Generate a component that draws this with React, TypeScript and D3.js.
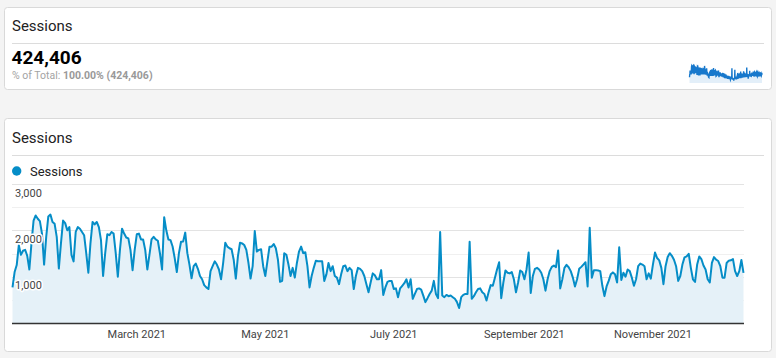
import React from 'react';
import * as d3 from 'd3';

// Daily sessions (Jan 1 2021 – Dec 14 2021)
const jan = [770, 1100, 1250, 1680, 1470, 1560, 1580, 1450, 1155, 1720, 2210, 2320, 2250, 2200, 1930, 1260, 1860, 2300, 2340, 2180, 2140, 1860, 1175, 1720, 2210, 2155, 2000, 2070, 1470, 1330, 1965];
const feb = [2070, 2035, 1965, 1895, 1507, 1085, 1720, 2180, 2127, 2180, 2070, 1790, 1015, 1507, 1915, 1895, 1965, 1930, 1507, 1000, 1578, 2035, 1930, 1845, 1825, 1578, 1140, 1578];
const mar = [1915, 1930, 1803, 1803, 1578, 1155, 1472, 1803, 1859, 1803, 1775, 1500, 1155, 2282, 2000, 1803, 1789, 1650, 1400, 1099, 1507, 1754, 1760, 1951, 1507, 1261, 965, 1226, 1282, 1169, 1014];
const apr = [944, 817, 768, 733, 1120, 1226, 1331, 1261, 1155, 944, 1296, 1732, 1648, 1613, 1592, 1366, 958, 1437, 1732, 1718, 1683, 1578, 1300, 958, 1226, 1986, 1542, 1578, 1592, 1226];
const may = [1014, 1331, 1648, 1648, 1704, 1613, 1366, 888, 909, 1507, 1472, 1261, 1014, 1190, 979, 1296, 1542, 1648, 1507, 1528, 1226, 768, 1014, 1190, 1345, 1331, 1331, 1331, 909, 1050, 1296];
const jun = [1120, 1226, 1014, 979, 838, 1050, 1226, 1240, 1120, 1190, 1141, 733, 1014, 1190, 1169, 1120, 1014, 838, 662, 874, 1071, 1029, 944, 944, 1141, 606, 768, 888, 909, 909];
const jul = [733, 747, 557, 747, 803, 860, 944, 768, 944, 522, 627, 733, 747, 719, 592, 451, 536, 627, 698, 909, 627, 536, 1965, 592, 557, 606, 578, 592, 557, 522, 451];
const aug = [324, 557, 606, 627, 627, 1754, 522, 578, 662, 733, 747, 662, 627, 486, 662, 817, 803, 979, 1155, 1310, 536, 874, 1134, 1085, 1071, 1099, 944, 662, 874, 1134, 1099];
const sep = [944, 1155, 1521, 648, 1014, 1169, 1190, 1155, 1085, 944, 698, 944, 1120, 1211, 1240, 1204, 1563, 747, 944, 1190, 1254, 1204, 1120, 979, 789, 944, 1169, 1211, 1261, 1310];
const oct = [789, 2056, 979, 1141, 1141, 1134, 1120, 803, 580, 789, 909, 1050, 1092, 1050, 874, 1634, 930, 1085, 1000, 1155, 1120, 979, 803, 944, 1226, 1282, 1261, 1226, 944, 1071, 958];
const nov = [1261, 1521, 1402, 1352, 1190, 838, 1226, 1423, 1507, 1451, 1366, 1226, 909, 1014, 1261, 1416, 1437, 1493, 1190, 944, 888, 1261, 1437, 1380, 1240, 1155, 944, 874, 1296, 1423];
const dec = [1366, 1338, 1226, 979, 979, 1296, 1345, 1352, 1380, 1120, 1014, 1120, 1360, 1080];

const sessions: number[] = [jan, feb, mar, apr, may, jun, jul, aug, sep, oct, nov, dec].flat();
const startDate = new Date(2021, 0, 1);
const dates: Date[] = sessions.map((_, i) => d3.timeDay.offset(startDate, i));

const tickDates = [new Date(2021, 2, 1), new Date(2021, 4, 1), new Date(2021, 6, 1), new Date(2021, 8, 1), new Date(2021, 10, 1)];
const tickLabels = ['March 2021', 'May 2021', 'July 2021', 'September 2021', 'November 2021'];
const yMajor = [1000, 2000, 3000];
const yMinor = [500, 1500, 2500];
const yLabels = ['1,000', '2,000', '3,000'];
const metricName = 'Sessions';
const totalText = '424,406';
const pctLabel = '% of Total: ';
const pctValue = '100.00% (424,406)';

const FONT = 'Roboto, Arial, sans-serif';
const BLUE = '#058dc7';

export default function App() {
  const W = 776, H = 358;
  const x = d3.scaleTime().domain([dates[0], dates[dates.length - 1]]).range([12.5, 743.5]);
  const y = d3.scaleLinear().domain([0, 3000]).range([323, 184]);
  const pts = sessions.map((v, i) => ({ d: dates[i], v }));
  const line = d3.line<{ d: Date; v: number }>().x(p => x(p.d)).y(p => y(p.v));
  const area = d3.area<{ d: Date; v: number }>().x(p => x(p.d)).y0(y(0)).y1(p => y(p.v));

  const sx = d3.scaleTime().domain([dates[0], dates[dates.length - 1]]).range([689.5, 762]);
  const sy = d3.scaleLinear().domain([0, d3.max(sessions) as number]).range([83, 65.5]);
  const sLine = d3.line<{ d: Date; v: number }>().x(p => sx(p.d)).y(p => sy(p.v));
  const sArea = d3.area<{ d: Date; v: number }>().x(p => sx(p.d)).y0(sy(0)).y1(p => sy(p.v));

  return (
    <div style={{ position: 'absolute', left: 0, top: 0, width: W, height: H }}>
      <svg width={W} height={H} style={{ display: 'block', fontFamily: FONT }}>
        <rect x={0} y={0} width={W} height={H} fill="#f4f4f4" />
        {/* Card 1 */}
        <rect x={4.5} y={7.5} width={767} height={82} rx={3} fill="#fff" stroke="#d9d9d9" />
        <text x={12} y={31} fontSize={15} fill="#222">{metricName}</text>
        <line x1={12} x2={764} y1={43.5} y2={43.5} stroke="#dcdcdc" />
        <text x={11.5} y={63.5} fontSize={19} fontWeight="bold" fill="#000">{totalText}</text>
        <text x={12} y={79} fontSize={10.5} fill="#a3a3a3">
          {pctLabel}
          <tspan fontWeight="bold" fill="#999">{pctValue}</tspan>
        </text>
        <path d={sArea(pts) as string} fill="#e3eff9" />
        <path d={sLine(pts) as string} fill="none" stroke="#1778cc" strokeWidth={1.4} />

        {/* Card 2 */}
        <rect x={4.5} y={118.5} width={767} height={233} rx={3} fill="#fff" stroke="#d9d9d9" />
        <text x={12} y={142.5} fontSize={15} fill="#222">{metricName}</text>
        <line x1={12} x2={764} y1={155.5} y2={155.5} stroke="#dcdcdc" />
        <circle cx={16.7} cy={171} r={4.7} fill={BLUE} />
        <text x={30} y={175.5} fontSize={13} fill="#222">{metricName}</text>

        {yMinor.map(t => (
          <line key={'mn' + t} x1={12} x2={744} y1={Math.round(y(t)) + 0.5} y2={Math.round(y(t)) + 0.5} stroke="#f0f0f0" />
        ))}
        {yMajor.map(t => (
          <line key={'mj' + t} x1={12} x2={744} y1={Math.round(y(t)) + 0.5} y2={Math.round(y(t)) + 0.5} stroke="#e3e3e3" />
        ))}

        <path d={area(pts) as string} fill="#e5f1f8" />
        <path d={line(pts) as string} fill="none" stroke={BLUE} strokeWidth={2} strokeLinejoin="round" />

        {yMajor.map((t, i) => (
          <text key={'yl' + t} x={15} y={y(t) + 12.5} fontSize={11} fill="#444"
            stroke="#fff" strokeWidth={3} strokeLinejoin="round" style={{ paintOrder: 'stroke' }}>{yLabels[i]}</text>
        ))}

        <line x1={12} x2={744} y1={323.5} y2={323.5} stroke="#333" strokeWidth={1.5} />
        {tickDates.map((d, i) => (
          <text key={'xt' + i} x={x(d)} y={338} fontSize={11} fill="#444" textAnchor="middle">{tickLabels[i]}</text>
        ))}
      </svg>
    </div>
  );
}
